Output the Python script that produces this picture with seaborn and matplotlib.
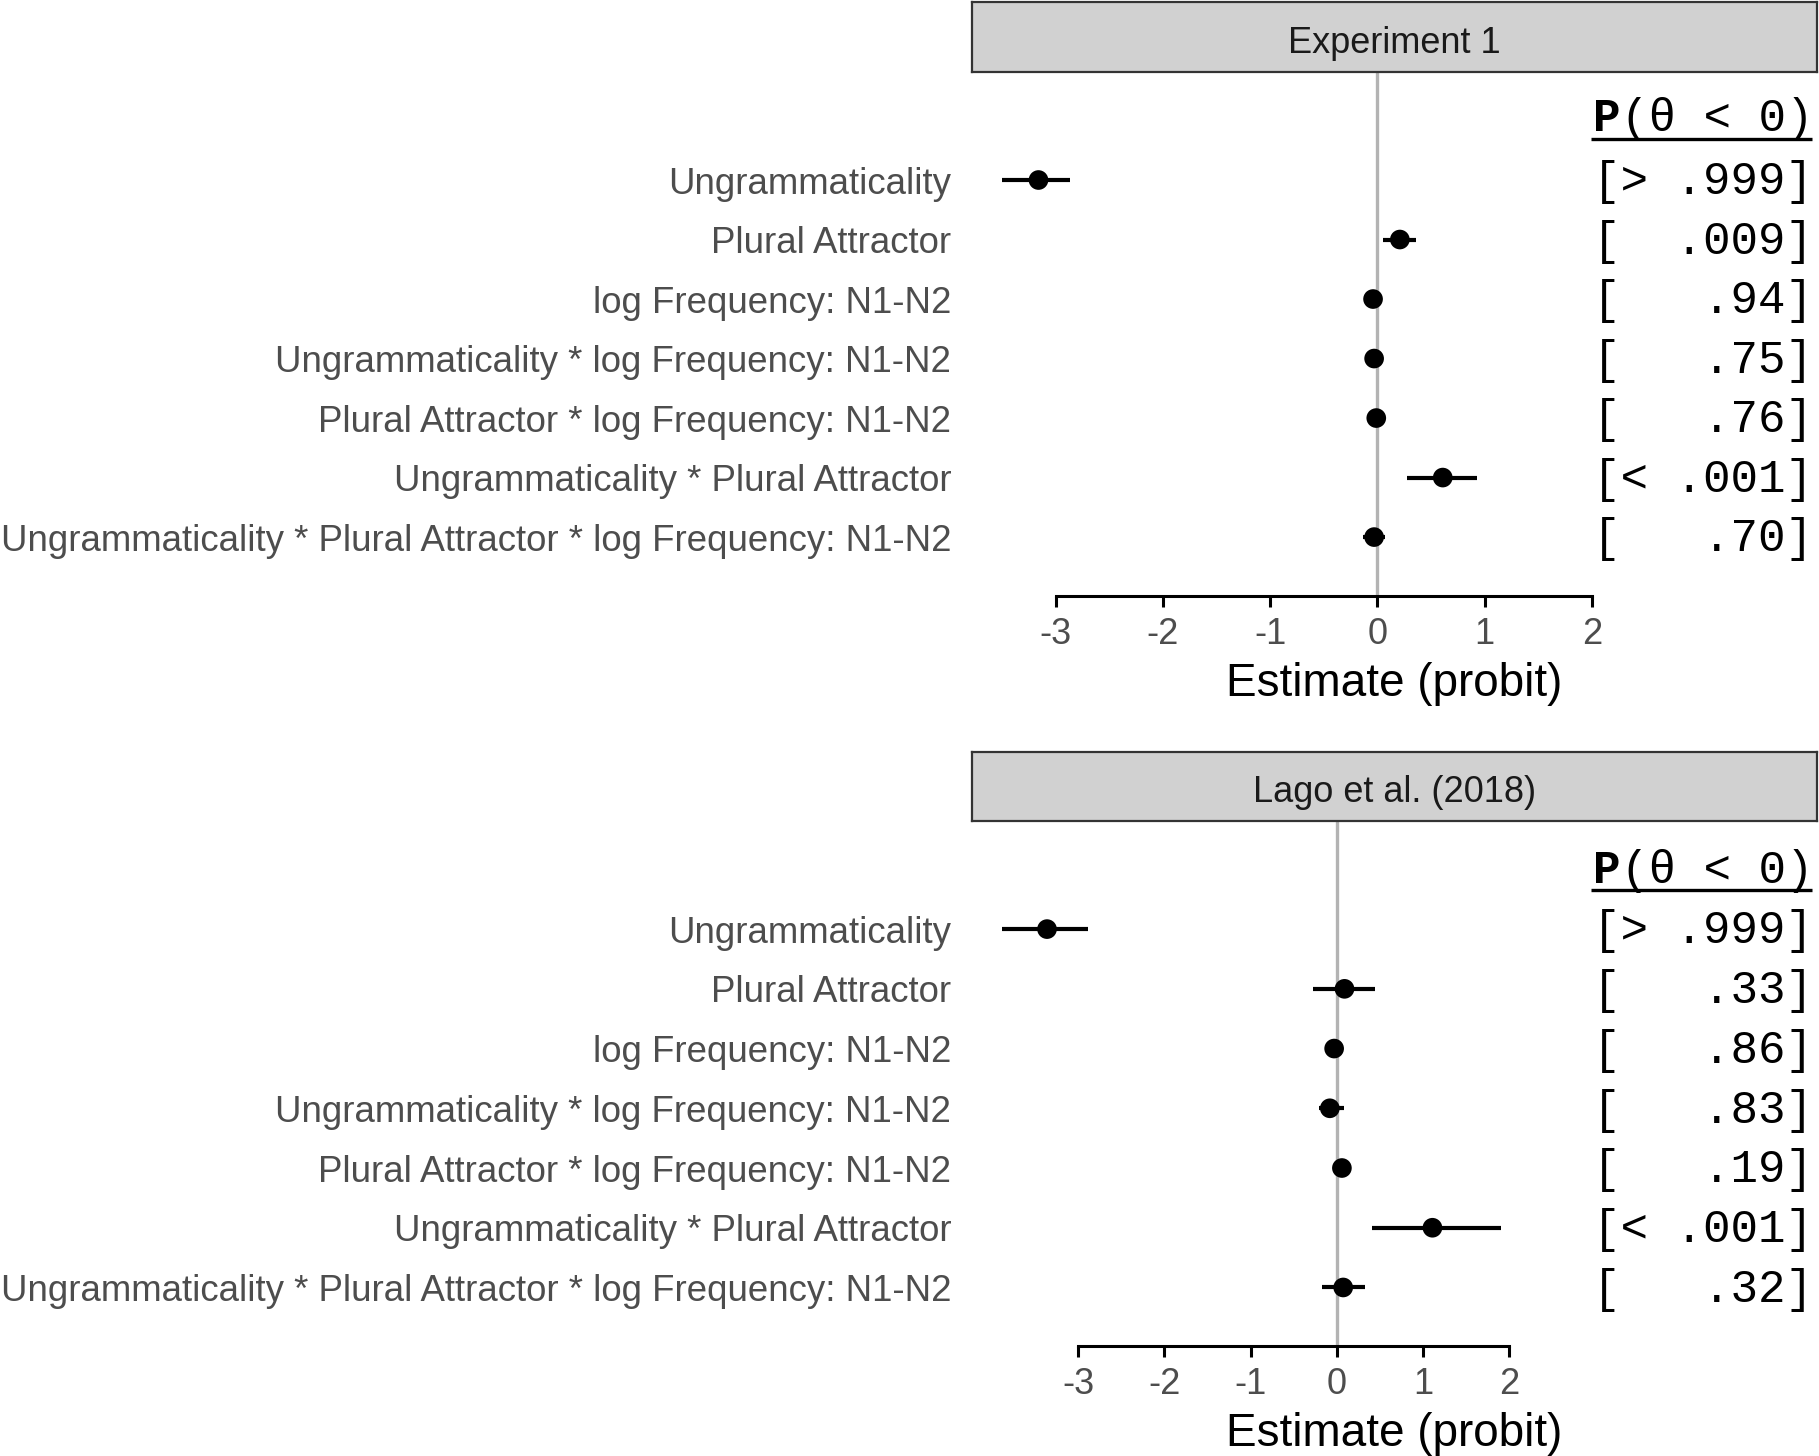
import numpy as np
import pandas as pd
import matplotlib
matplotlib.use("Agg")
import matplotlib.pyplot as plt
import matplotlib.transforms as mtrans
import seaborn as sns

# ---------------- data ----------------
terms = [
    "Ungrammaticality",
    "Plural Attractor",
    "log Frequency: N1-N2",
    "Ungrammaticality * log Frequency: N1-N2",
    "Plural Attractor * log Frequency: N1-N2",
    "Ungrammaticality * Plural Attractor",
    "Ungrammaticality * Plural Attractor * log Frequency: N1-N2",
]
panels = ["Experiment 1", "Lago et al. (2018)"]

exp1_est = [-3.16, 0.21, -0.04, -0.03, -0.01, 0.61, -0.03]
exp1_lo = [-3.50, 0.05, -0.09, -0.08, -0.06, 0.28, -0.13]
exp1_hi = [-2.87, 0.36, 0.02, 0.02, 0.04, 0.93, 0.07]
exp1_p = ["[> .999]", "[  .009]", "[   .94]", "[   .75]", "[   .76]", "[< .001]", "[   .70]"]

lago_est = [-3.36, 0.09, -0.03, -0.08, 0.06, 1.11, 0.075]
lago_lo = [-3.88, -0.28, -0.09, -0.20, -0.02, 0.41, -0.17]
lago_hi = [-2.88, 0.44, 0.03, 0.09, 0.13, 1.90, 0.33]
lago_p = ["[> .999]", "[   .33]", "[   .86]", "[   .83]", "[   .19]", "[< .001]", "[   .32]"]

header_first = "P"
header_rest = "(\u03b8 < 0)"
x_ticks = [-3, -2, -1, 0, 1, 2]

# ---------------- style ----------------
sns.set_style("white")
plt.rcParams["font.family"] = ["Liberation Sans", "DejaVu Sans"]

W, H = 1819, 1456
fig = plt.figure(figsize=(W / 100, H / 100), dpi=100)

def fx(px):
    return px / W

def fy(py):
    return 1 - py / H

panel_specs = [
    dict(name=panels[0], est=exp1_est, lo=exp1_lo, hi=exp1_hi, p=exp1_p,
         strip=(2, 72), axis_y=596, xlim=(-3.78, 4.10), ylim=(6.99, -1.815),
         head_y=-1.02, ul_y=-0.69),
    dict(name=panels[1], est=lago_est, lo=lago_lo, hi=lago_hi, p=lago_p,
         strip=(752, 821), axis_y=1346, xlim=(-4.23, 5.57), ylim=(6.98, -1.81),
         head_y=-0.98, ul_y=-0.65),
]

x0, x1 = 972, 1817
mono = ["Liberation Mono", "DejaVu Sans Mono"]
mono_size = 33
char_frac = 0.6 * mono_size / 72 * 100 / (x1 - x0)
col_x = 0.735

for spec in panel_specs:
    df = pd.DataFrame({
        "term": terms,
        "pos": np.arange(len(terms)),
        "est": spec["est"],
        "lo": spec["lo"],
        "hi": spec["hi"],
        "p": spec["p"],
    })
    top_px = spec["strip"][1]
    ax = fig.add_axes([fx(x0), fy(spec["axis_y"]), fx(x1 - x0),
                       (spec["axis_y"] - top_px) / H])
    ax.axvline(0, color="#B3B3B3", lw=2.4, zorder=1)
    ax.hlines(df["pos"], df["lo"], df["hi"], color="black", lw=3.0, zorder=2)
    sns.scatterplot(data=df, x="est", y="pos", ax=ax, color="black", s=200,
                    edgecolor="none", zorder=3, legend=False)
    ax.set_xlim(*spec["xlim"])
    ax.set_ylim(*spec["ylim"])
    ax.set_yticks(df["pos"])
    ax.set_yticklabels(df["term"])
    ax.set_xticks(x_ticks)
    ax.set_xticklabels([str(t) for t in x_ticks])
    ax.tick_params(axis="y", left=False, length=0, pad=15, labelsize=26.4,
                   labelcolor="#4D4D4D")
    ax.tick_params(axis="x", bottom=True, length=8, width=2.2, color="black",
                   pad=7, labelsize=26, labelcolor="#4D4D4D", direction="out")
    for s in ["left", "right", "top"]:
        ax.spines[s].set_visible(False)
    ax.spines["bottom"].set_bounds(-3, 2)
    ax.spines["bottom"].set_linewidth(2.2)
    ax.spines["bottom"].set_color("black")
    ax.set_ylabel("")
    ax.set_xlabel("Estimate (probit)", fontsize=33, color="black", labelpad=7)
    ax.grid(False)

    tr = mtrans.blended_transform_factory(ax.transAxes, ax.transData)
    ax.text(col_x, spec["head_y"], header_first, transform=tr, ha="left",
            va="center", fontsize=mono_size, family=mono, fontweight="bold",
            color="black")
    ax.text(col_x + char_frac, spec["head_y"], header_rest, transform=tr,
            ha="left", va="center", fontsize=mono_size, family=mono,
            color="black")
    ax.plot([0.733, 0.994], [spec["ul_y"], spec["ul_y"]], transform=tr,
            color="black", lw=2.4, clip_on=False, solid_capstyle="butt")
    for _, r in df.iterrows():
        ax.text(col_x, r["pos"] + 0.04, r["p"], transform=tr, ha="left",
                va="center", fontsize=mono_size, family=mono, color="black")

    # facet strip
    sa, sb = spec["strip"]
    sax = fig.add_axes([fx(x0), fy(sb), fx(x1 - x0), (sb - sa) / H])
    sax.set_facecolor("#D1D1D1")
    sax.set_xticks([])
    sax.set_yticks([])
    for s in sax.spines.values():
        s.set_visible(True)
        s.set_color("#333333")
        s.set_linewidth(1.6)
    sax.text(0.5, 0.47, spec["name"], transform=sax.transAxes, ha="center",
             va="center_baseline", fontsize=26, color="#1A1A1A")

fig.savefig("out.png", dpi=100, facecolor="white")
